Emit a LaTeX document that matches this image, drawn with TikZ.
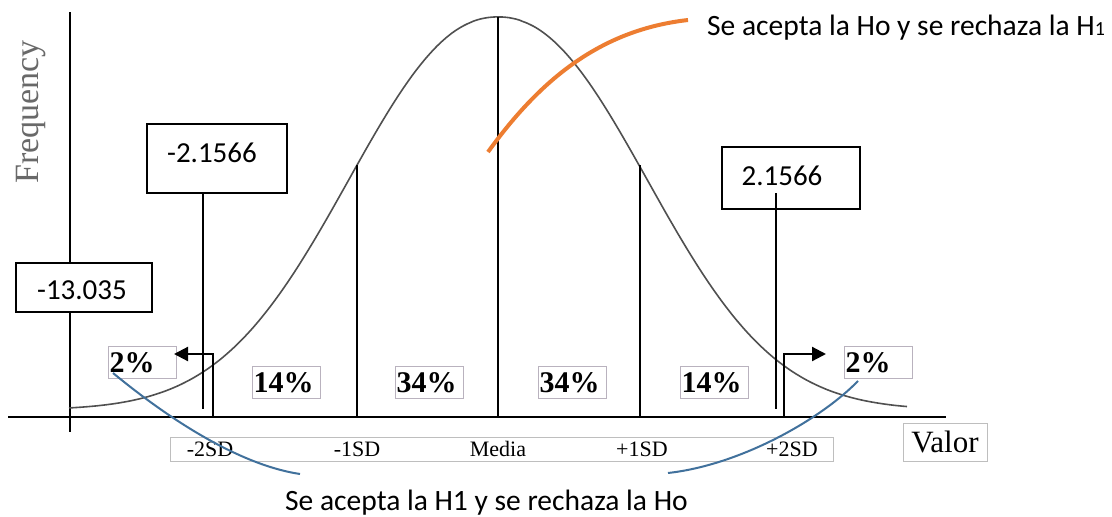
\documentclass[tikz,border=0pt]{standalone}
\usepackage{fontspec}
\setmainfont{Liberation Serif}
\newfontfamily\calfont{Carlito}
\usetikzlibrary{arrows.meta}
\definecolor{orangeA}{RGB}{237,125,49}
\definecolor{blueA}{RGB}{65,113,156}
\definecolor{curveC}{RGB}{80,80,80}
\definecolor{pctB}{RGB}{185,178,190}
\definecolor{stripB}{RGB}{190,190,190}
\definecolor{freqC}{RGB}{105,105,105}
\begin{document}
\begin{tikzpicture}[x=1pt,y=-1pt,
  numbox/.style={draw=black,line width=1.2pt,fill=white,inner sep=0pt},
  numtext/.style={font=\calfont\fontsize{29}{34}\selectfont,inner sep=0pt},
  pbox/.style={draw=pctB,line width=1.3pt,fill=white,anchor=north west,inner sep=1pt,
    text width=66pt,minimum height=32pt,align=left,font=\bfseries\fontsize{30}{31}\selectfont},
  sdtext/.style={font=\fontsize{22}{24}\selectfont,inner sep=0pt},
  axisline/.style={line width=1.5pt,black},
  sdline/.style={line width=1.3pt,black},
  bell/.style={draw=curveC,line width=1.6pt},
  arrowline/.style={line width=2.2pt,-{Triangle[length=14pt,width=14pt]}},
  orangeline/.style={draw=orangeA,line width=4pt},
  blueline/.style={draw=blueA,line width=2pt},
  caltext/.style={font=\calfont\fontsize{29.5}{34}\selectfont,inner sep=0pt,anchor=base west}
]
\useasboundingbox (0,0) rectangle (1112,517);
\fill[white] (0,0) rectangle (1112,517);

% axes
\coordinate (yt) at (70,12);
\coordinate (yb) at (70,432);
\coordinate (xl) at (8,417);
\coordinate (xr) at (946,417);
\draw[axisline] (yt) -- (yb);
\draw[axisline] (xl) -- (xr);

% bell curve
\draw[bell] plot[domain=69:907,samples=241,smooth] (\x,{410-393*exp(-pow((abs(\x-498)+0.01)/199.3,2.163))});

% SD lines
\draw[sdline] (357,165) -- (357,417);
\draw[sdline] (498,17) -- (498,417);
\draw[sdline] (640,165) -- (640,417);

% Frequency label
\node[rotate=90,font=\fontsize{34}{36}\selectfont,text=freqC,inner sep=0pt] (freq) at (31,112) {Frequency};

% number boxes
\node[numbox,minimum width=140pt,minimum height=69pt] (bm2) at (217,158.5) {};
\node[numtext] (tm2) at (212,153) {-2.1566};
\node[numbox,minimum width=136pt,minimum height=49pt] (bm13) at (84,287.5) {};
\node[numtext] (tm13) at (82,290) {-13.035};
\node[numbox,minimum width=138pt,minimum height=62pt] (bp2) at (791,178) {};
\node[numtext] (tp2) at (782,176) {2.1566};

% threshold lines
\coordinate (tl1) at (203,409);
\coordinate (tr0) at (776,193);
\coordinate (tr1) at (776,409);
\draw[sdline] (bm2.south -| tl1) -- (tl1);
\draw[sdline] (tr0) -- (tr1);

% percentage boxes
\node[pbox] (p1) at (108,346) {2\%};
\node[pbox] (p2) at (252,366) {14\%};
\node[pbox] (p3) at (395,366) {34\%};
\node[pbox] (p4) at (538,366) {34\%};
\node[pbox] (p5) at (680,366) {14\%};
\node[pbox] (p6) at (844,346) {2\%};

% arrows
\coordinate (als) at (213,417);
\coordinate (ale) at (174,354);
\coordinate (ars) at (784,417);
\coordinate (are) at (826,354);
\draw[arrowline] (als) |- (ale);
\draw[arrowline] (ars) |- (are);

% SD strip
\node[draw=stripB,line width=1pt,minimum width=663pt,minimum height=24pt,inner sep=0pt] (strip) at (501.5,449) {};
\node[sdtext] (l1) at (210,449) {-2SD};
\node[sdtext] (l2) at (357,449) {-1SD};
\node[sdtext] (l3) at (498,449) {Media};
\node[sdtext] (l4) at (642,449) {+1SD};
\node[sdtext] (l5) at (792,449) {+2SD};
\node[draw=stripB,line width=1pt,minimum width=84pt,minimum height=38pt,inner sep=0pt,font=\fontsize{31}{33}\selectfont] (valor) at (945,442) {Valor};

% texts
\node[caltext] (toptext) at (707,35) {Se acepta la Ho y se rechaza la H{\fontsize{20}{20}\selectfont 1}};
\node[caltext] (bottomtext) at (285,510) {Se acepta la H1 y se rechaza la Ho};

% orange connector
\coordinate (o1) at (488,152);
\coordinate (o2) at (688,20);
\draw[orangeline] (o1) .. controls (540,80) and (600,30) .. (o2);

% blue connectors
\coordinate (b1) at (113,373);
\coordinate (b1e) at (300,474);
\coordinate (b2) at (858,381);
\coordinate (b2e) at (668,473);
\draw[blueline] (b1) .. controls (170,420) and (240,465) .. (b1e);
\draw[blueline] (b2) .. controls (820,420) and (740,465) .. (b2e);
\end{tikzpicture}
\end{document}
